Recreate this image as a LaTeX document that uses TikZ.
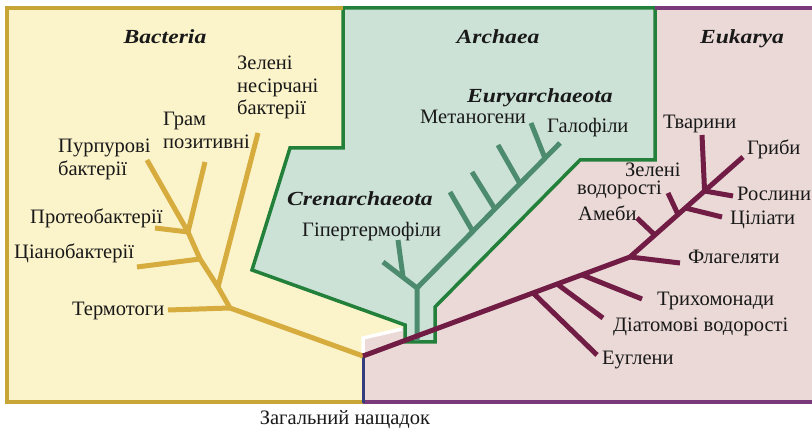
\documentclass[tikz,border=0pt]{standalone}
\usepackage{fontspec}
\usetikzlibrary{calc}
\setmainfont{Liberation Serif}
\newfontfamily\titlefam[FakeStretch=1.18]{Liberation Serif}
\definecolor{yellowbg}{RGB}{251,243,201}
\definecolor{goldline}{RGB}{214,172,62}
\definecolor{goldborder}{RGB}{200,165,55}
\definecolor{greenbg}{RGB}{204,226,215}
\definecolor{greenborder}{RGB}{34,128,58}
\definecolor{tealline}{RGB}{77,139,111}
\definecolor{pinkbg}{RGB}{234,217,214}
\definecolor{purpleborder}{RGB}{122,58,122}
\definecolor{maroonline}{RGB}{112,28,68}
\definecolor{navyline}{RGB}{50,62,125}
\begin{document}
\begin{tikzpicture}[x=1pt,y=-1pt,
  lab/.style={inner sep=0pt,font=\fontsize{20.5}{22.5}\selectfont,text=black!90},
  mlab/.style={lab,align=left},
  ttl/.style={inner sep=0pt,font=\titlefam\bfseries\itshape\fontsize{20}{22}\selectfont,text=black!90},
  bacline/.style={draw=goldline,line width=5pt,line join=round},
  arcline/.style={draw=tealline,line width=5pt,line join=round},
  eukline/.style={draw=maroonline,line width=5pt,line join=round},
  frameline/.style={line width=3.5pt}]
\useasboundingbox (0,0) rectangle (812,430);
% regions
\fill[yellowbg] (7,8) rectangle (812,402);
\fill[pinkbg] (363,402) -- (812,402) -- (812,8) -- (655,8) -- (655,160) -- (580,160) -- (435,307) -- (435,342) -- (405,342) -- (405,327) -- (363,338) -- cycle;
\filldraw[fill=greenbg,draw=greenborder,frameline] (343,8) -- (655,8) -- (655,160) -- (580,160) -- (435,307) -- (435,342) -- (405,342) -- (405,325) -- (252,270) -- (290,148) -- (343,148) -- cycle;
\draw[goldborder,frameline] (363,402) -- (7,402) -- (7,8) -- (343,8);
\draw[purpleborder,frameline] (655,8) -- (812,8);
\draw[purpleborder,frameline] (363,402) -- (812,402);
\draw[white,line width=3.5pt] (363,355) -- (363,338) -- (402,329);
\draw[navyline,line width=3pt] (363,355) -- (363,403.5);
% common root
\coordinate (root) at (363,356);
% Bacteria tree
\coordinate (b1) at (230,308);
\coordinate (b2) at (218,287);
\coordinate (b3) at (200,259);
\coordinate (b4) at (188,232);
\coordinate (tThermo) at (168,310);
\coordinate (tGreen) at (258,133);
\coordinate (tCyano) at (137,267);
\coordinate (tProteo) at (155,228);
\coordinate (tPurple) at (147,160);
\coordinate (tGram) at (205,162);
\draw[bacline] (root) -- (b1) -- (b2) -- (b3) -- (b4);
\draw[bacline] (b1) -- (tThermo);
\draw[bacline] (b2) -- (tGreen);
\draw[bacline] (b3) -- (tCyano);
\draw[bacline] (b4) -- (tProteo);
\draw[bacline] (b4) -- (tPurple);
\draw[bacline] (b4) -- (tGram);
% Archaea tree
\coordinate (a0) at (417,341);
\coordinate (a1) at (417,288);
\coordinate (aEnd) at (560,143);
\coordinate (hTip) at (383,262);
\coordinate (hSub) at ($(a1)!0.41!(hTip)$);
\coordinate (hSubTip) at (398,240);
\coordinate (s1) at ($(a1)!0.39!(aEnd)$);
\coordinate (s2) at ($(a1)!0.545!(aEnd)$);
\coordinate (s3) at ($(a1)!0.72!(aEnd)$);
\coordinate (s4) at ($(a1)!0.895!(aEnd)$);
\coordinate (s1t) at (450,192);
\coordinate (s2t) at (472,172);
\coordinate (s3t) at (498,145);
\coordinate (s4t) at (531,123);
\draw[arcline] (a0) -- (a1) -- (aEnd);
\draw[arcline] (a1) -- (hTip);
\draw[arcline] (hSub) -- (hSubTip);
\draw[arcline] (s1) -- (s1t);
\draw[arcline] (s2) -- (s2t);
\draw[arcline] (s3) -- (s3t);
\draw[arcline] (s4) -- (s4t);
% Eukarya tree
\coordinate (e1) at (630,257);
\coordinate (eEnd) at (743,157);
\coordinate (eEug) at ($(root)!0.637!(e1)$);
\coordinate (eDia) at ($(root)!0.727!(e1)$);
\coordinate (eTri) at ($(root)!0.82!(e1)$);
\coordinate (eAme) at ($(e1)!0.22!(eEnd)$);
\coordinate (eGre) at ($(e1)!0.425!(eEnd)$);
\coordinate (eCil) at ($(e1)!0.49!(eEnd)$);
\coordinate (ePla) at ($(e1)!0.66!(eEnd)$);
\coordinate (tEug) at (597,355);
\coordinate (tDia) at (603,318);
\coordinate (tTri) at (642,299);
\coordinate (tFla) at (680,263);
\coordinate (tAme) at (637,218);
\coordinate (tGre) at (668,193);
\coordinate (tCil) at (722,217);
\coordinate (tPla) at (733,196);
\coordinate (tAni) at (702,135);
\draw[eukline] (root) -- (e1) -- (eEnd);
\draw[eukline] (eEug) -- (tEug);
\draw[eukline] (eDia) -- (tDia);
\draw[eukline] (eTri) -- (tTri);
\draw[eukline] (e1) -- (tFla);
\draw[eukline] (eAme) -- (tAme);
\draw[eukline] (eGre) -- (tGre);
\draw[eukline] (eCil) -- (tCil);
\draw[eukline] (ePla) -- (tPla);
\draw[eukline] (ePla) -- (tAni);
% titles
\node[ttl,anchor=base] (tBac) at (165,44) {Bacteria};
\node[ttl,anchor=base] (tArc) at (498,44) {Archaea};
\node[ttl,anchor=base] (tEuk) at (742,44) {Eukarya};
\node[ttl,anchor=base] (tEury) at (540,103) {Euryarchaeota};
\node[ttl,anchor=base] (tCren) at (360,206) {Crenarchaeota};
% bacteria labels
\node[mlab,anchor=north west] (lGreen) at (237,56) {Зелені\\несірчані\\бактерії};
\node[mlab,anchor=north west] (lGram) at (163,112) {Грам\\позитивні};
\node[mlab,anchor=north west] (lPurple) at (58,139) {Пурпурові\\бактерії};
\node[lab,anchor=base west] (lProteo) at (30,224) {Протеобактерії};
\node[lab,anchor=base west] (lCyano) at (14,259) {Ціанобактерії};
\node[lab,anchor=base west] (lThermo) at (72,316) {Термотоги};
\node[lab,anchor=base] (lRoot) at (345,425) {Загальний нащадок};
% archaea labels
\node[lab,anchor=base west] (lMet) at (420,124) {Метаногени};
\node[lab,anchor=base west] (lHal) at (547,133) {Галофіли};
\node[lab,anchor=base west] (lHyp) at (302,237) {Гіпертермофіли};
% eukarya labels
\node[lab,anchor=base west] (lAni) at (663,129) {Тварини};
\node[lab,anchor=base west] (lFun) at (747,155) {Гриби};
\node[lab,anchor=base west] (lGreA) at (625,177) {Зелені};
\node[lab,anchor=base west] (lGreB) at (577,195) {водорості};
\node[lab,anchor=base west] (lPla) at (737,201) {Рослини};
\node[lab,anchor=base west] (lAme) at (578,221) {Амеби};
\node[lab,anchor=base west] (lCil) at (730,225) {Ціліати};
\node[lab,anchor=base west] (lFla) at (688,264) {Флагеляти};
\node[lab,anchor=base west] (lTri) at (657,306) {Трихомонади};
\node[lab,anchor=base west] (lDia) at (613,332) {Діатомові водорості};
\node[lab,anchor=base west] (lEug) at (602,365) {Еуглени};
\end{tikzpicture}
\end{document}
